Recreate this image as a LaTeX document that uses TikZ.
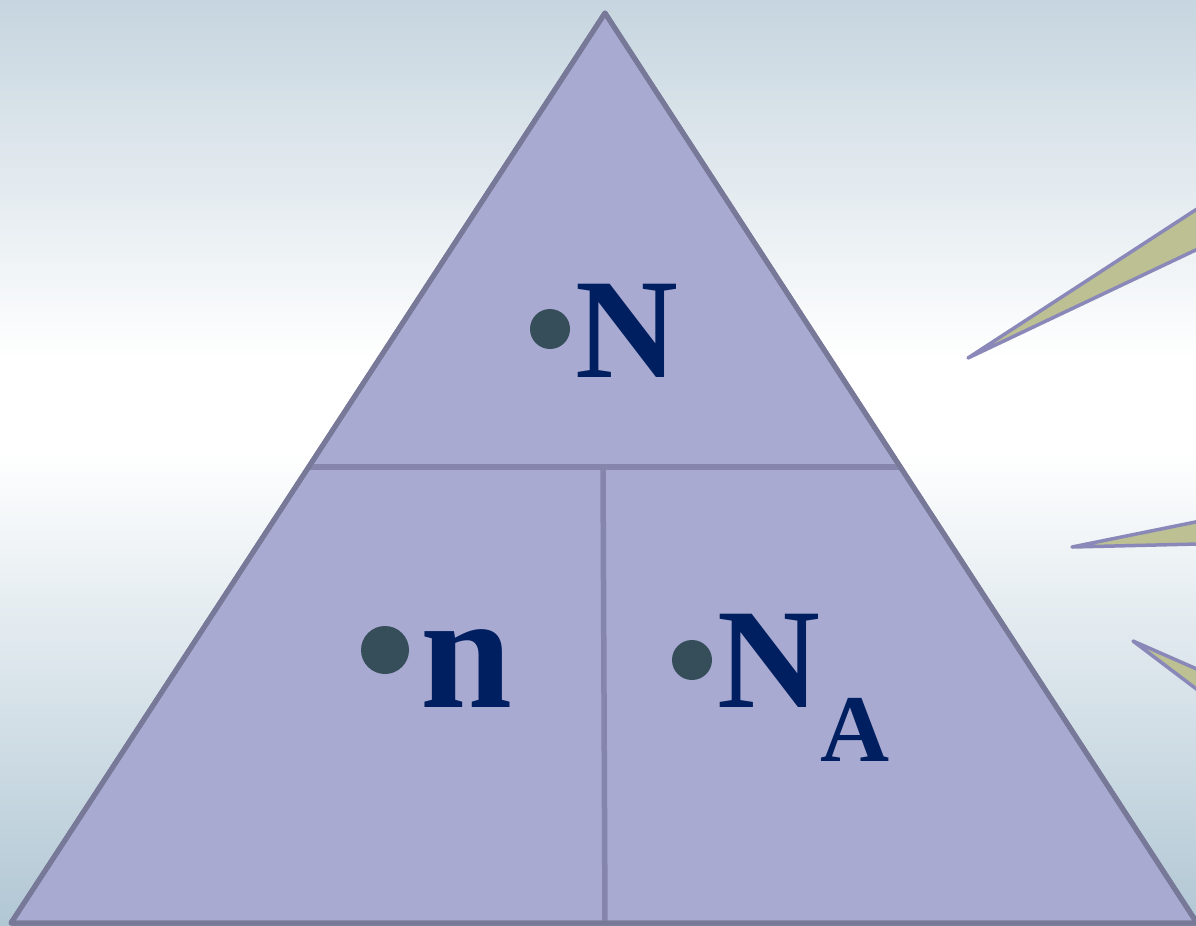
\documentclass[tikz,border=0pt]{standalone}
\usepackage{fontspec}
\setmainfont{Liberation Serif}
\definecolor{bgtop}{HTML}{C6D5DF}
\definecolor{bgbot}{HTML}{B1C7D4}
\definecolor{trifill}{HTML}{A9AAD1}
\definecolor{tristroke}{HTML}{787898}
\definecolor{innerline}{HTML}{8686AC}
\definecolor{wedgefill}{HTML}{BCC093}
\definecolor{wedgestroke}{HTML}{8A88B8}
\definecolor{txt}{HTML}{001F60}
\definecolor{bullet}{HTML}{364D5A}
\tikzset{
  wedge/.style={fill=wedgefill, draw=wedgestroke, line width=3.5bp, line join=round},
  tri/.style={fill=trifill, draw=tristroke, line width=5bp, line join=round},
  divider/.style={draw=innerline, line width=5.5bp},
  lbl/.style={inner sep=0pt, text=txt, anchor=base west},
  dot/.style={circle, fill=bullet, inner sep=0pt}
}
\begin{document}
\begin{tikzpicture}[x=1bp,y=-1bp]
\useasboundingbox (0,0) rectangle (1196,926);
% background
\shade[top color=bgtop, bottom color=white] (0,0) rectangle (1196,360);
\fill[white] (0,359) rectangle (1196,451);
\shade[top color=white, bottom color=bgbot] (0,450) rectangle (1196,926);
% callout tails
\begin{scope}
\clip (0,0) rectangle (1196,926);
\draw[wedge] (968,358) -- (1240,181) -- (1240,229) -- cycle;
\draw[wedge] (1072,547) -- (1240,513) -- (1240,543) -- cycle;
\draw[wedge] (1133,641) -- (1240,688) -- (1240,722) -- cycle;
\end{scope}
% triangle
\coordinate (apex) at (605,13);
\coordinate (bl) at (11,923);
\coordinate (br) at (1197,923);
\coordinate (ml) at (309,467);
\coordinate (mr) at (901,467);
\coordinate (vt) at (603,467);
\coordinate (vb) at (605,923);
\draw[tri] (apex) -- (br) -- (bl) -- cycle;
\draw[divider] (ml) -- (mr);
\draw[divider] (vt) -- (vb);
\draw[tri, fill=none] (apex) -- (br) -- (bl) -- cycle;
% labels
\node[dot, minimum size=40bp] (b1) at (550,329) {};
\node[lbl, font=\fontsize{143}{150}\selectfont\bfseries] (N) at (575,377) {N};
\node[dot, minimum size=48bp] (b2) at (385,650) {};
\node[lbl, font=\fontsize{166}{170}\selectfont\bfseries] (n) at (420,707) {n};
\node[dot, minimum size=40bp] (b3) at (692,660) {};
\node[lbl, font=\fontsize{143}{150}\selectfont\bfseries] (NA) at (717,707) {N\raisebox{-54bp}{\fontsize{96}{100}\selectfont A}};
\end{tikzpicture}
\end{document}
